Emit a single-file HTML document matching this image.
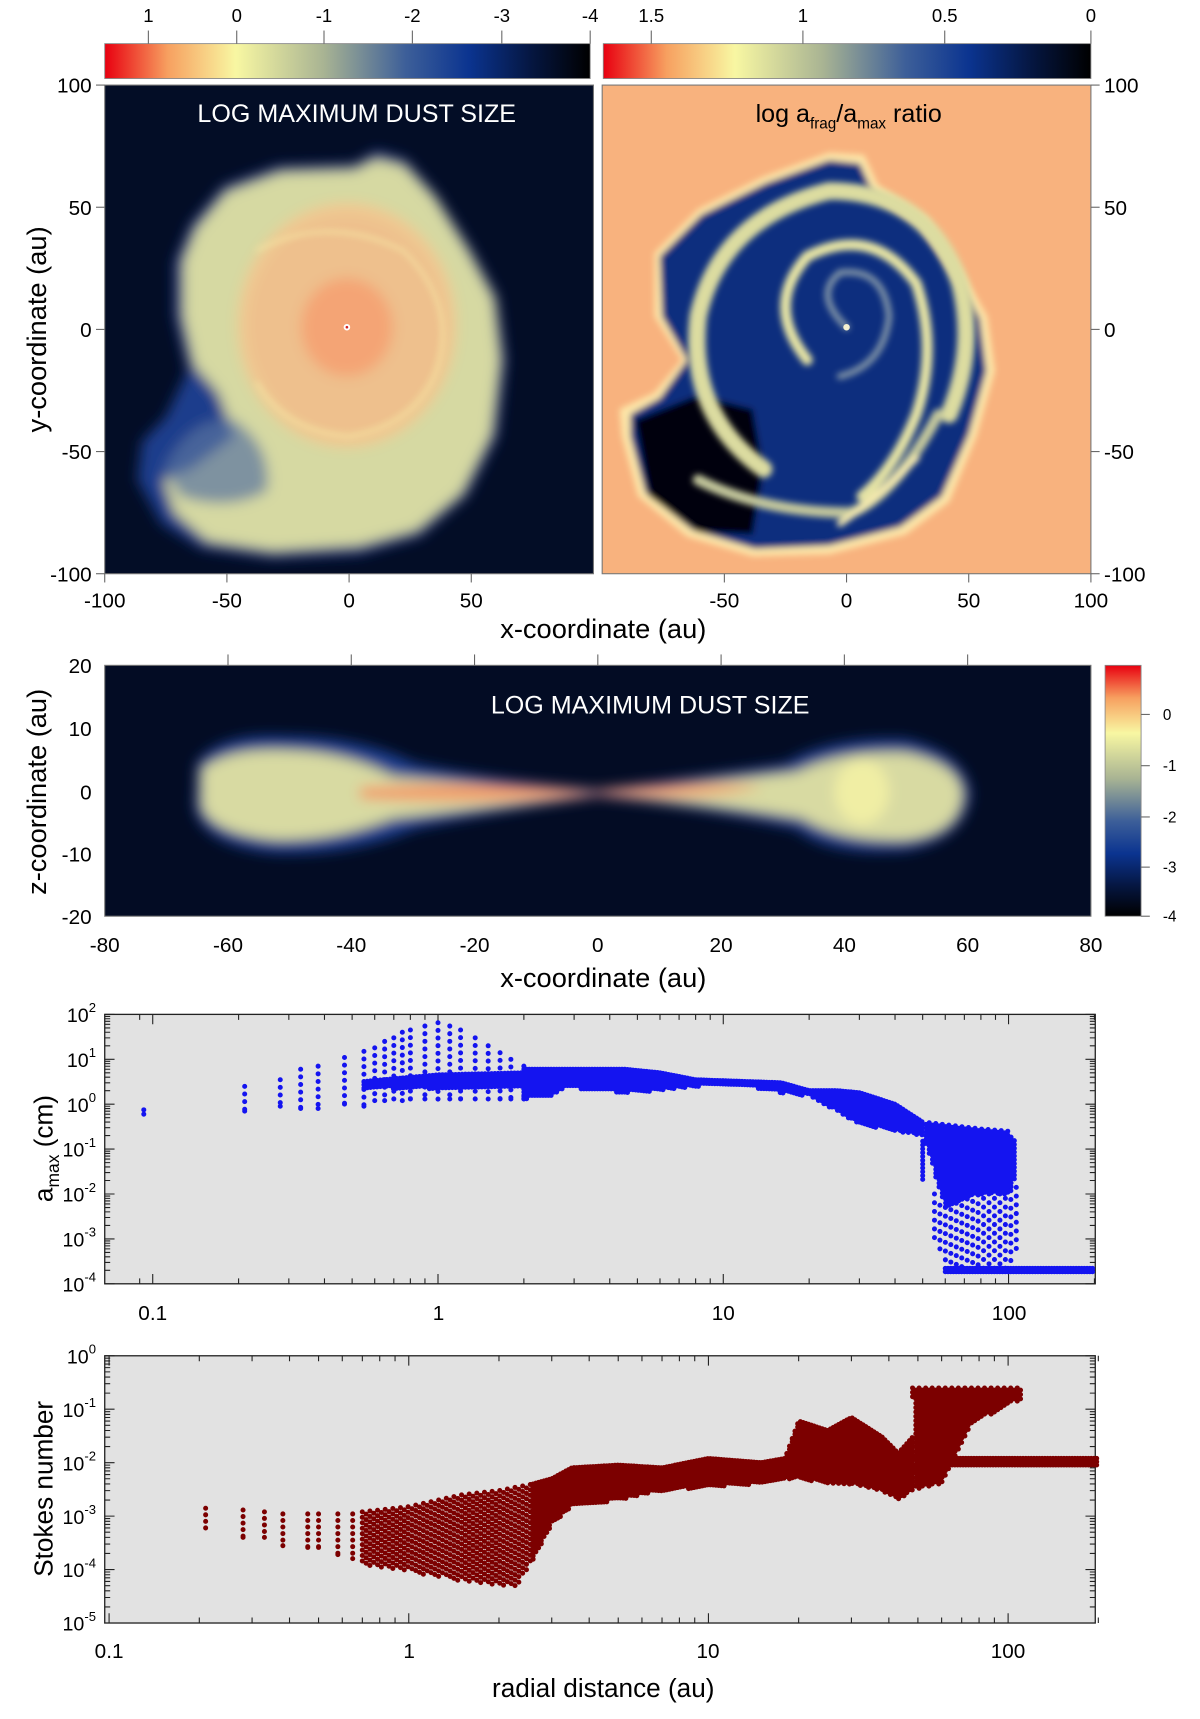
<!DOCTYPE html>
<html><head><meta charset="utf-8"><style>
html,body{margin:0;padding:0;background:#fff;}
svg{display:block;font-family:"Liberation Sans",sans-serif;}
</style></head><body>
<svg id="fig" width="1200" height="1719" viewBox="0 0 1100 1576" preserveAspectRatio="none" xmlns="http://www.w3.org/2000/svg">
<defs>
<linearGradient id="cmapL" x1="0" x2="1" y1="0" y2="0">
<stop offset="0" stop-color="#e80010"/><stop offset="0.13" stop-color="#f7a060"/><stop offset="0.27" stop-color="#f8f7a2"/><stop offset="0.45" stop-color="#a9b493"/><stop offset="0.62" stop-color="#3d5f99"/><stop offset="0.75" stop-color="#0b3490"/><stop offset="0.88" stop-color="#051640"/><stop offset="1" stop-color="#000000"/>
</linearGradient>
<linearGradient id="cmapV" x1="0" x2="0" y1="0" y2="1">
<stop offset="0" stop-color="#e80010"/><stop offset="0.13" stop-color="#f7a060"/><stop offset="0.27" stop-color="#f8f7a2"/><stop offset="0.45" stop-color="#a9b493"/><stop offset="0.62" stop-color="#3d5f99"/><stop offset="0.75" stop-color="#0b3490"/><stop offset="0.88" stop-color="#051640"/><stop offset="1" stop-color="#000000"/>
</linearGradient>
<filter id="b6" x="-20%" y="-20%" width="140%" height="140%"><feGaussianBlur stdDeviation="6"/></filter>
<filter id="b3" x="-20%" y="-20%" width="140%" height="140%"><feGaussianBlur stdDeviation="3"/></filter>
<clipPath id="clipL"><rect x="96" y="78" width="448" height="448"/></clipPath>
<clipPath id="clipR"><rect x="552" y="78" width="448" height="448"/></clipPath>
<clipPath id="clipM"><rect x="96" y="610" width="904" height="230"/></clipPath>
</defs>

<g>
<rect x="96" y="40" width="445" height="32" fill="url(#cmapL)" stroke="#888" stroke-width="0.8"/>
<g font-size="17" text-anchor="middle" fill="#000">
<text x="136" y="20">1</text><text x="217" y="20">0</text><text x="297" y="20">-1</text><text x="378" y="20">-2</text><text x="460" y="20">-3</text><text x="541" y="20">-4</text>
</g>
<g stroke="#666" stroke-width="1"><line x1="136" y1="28" x2="136" y2="40"/><line x1="217" y1="28" x2="217" y2="40"/><line x1="297" y1="28" x2="297" y2="40"/><line x1="378" y1="28" x2="378" y2="40"/><line x1="460" y1="28" x2="460" y2="40"/><line x1="541" y1="28" x2="541" y2="40"/></g>
</g>
<g>
<rect x="553" y="40" width="447" height="32" fill="url(#cmapL)" stroke="#888" stroke-width="0.8"/>
<g font-size="17" text-anchor="middle" fill="#000">
<text x="597" y="20">1.5</text><text x="736" y="20">1</text><text x="866" y="20">0.5</text><text x="1000" y="20">0</text>
</g>
<g stroke="#666" stroke-width="1"><line x1="597" y1="28" x2="597" y2="40"/><line x1="736" y1="28" x2="736" y2="40"/><line x1="866" y1="28" x2="866" y2="40"/><line x1="1000" y1="28" x2="1000" y2="40"/></g>
</g>

<g clip-path="url(#clipL)">
<rect x="96" y="78" width="448" height="448" fill="#030d26"/>
<g filter="url(#b6)">
<path d="M175,205 L205,170 L255,152 L325,150 L345,138 L372,146 L400,178 L432,228 L456,272 L464,330 L456,400 L428,455 L385,492 L330,508 L250,512 L185,503 L148,480 L126,440 L130,405 L152,382 L172,340 L160,290 L160,240 Z" fill="#1d3c8c"/>
<path d="M180,210 L208,176 L258,158 L325,156 L345,146 L370,152 L398,182 L428,230 L452,274 L458,330 L450,398 L423,452 L382,486 L330,500 L250,505 L190,496 L160,470 L150,440 L175,430 L215,400 L200,360 L178,335 L168,290 L168,240 Z" fill="#d6d9a2"/>
<path d="M150,430 Q175,380 215,385 Q250,410 245,450 Q210,470 165,455 Z" fill="#5873a0" opacity="0.7"/>
<ellipse cx="318" cy="298" rx="100" ry="112" fill="#f0c890"/>
<ellipse cx="318" cy="298" rx="90" ry="100" fill="#eec08d"/>
<ellipse cx="318" cy="300" rx="42" ry="45" fill="#f4a474"/>
</g>
<path d="M235,230 Q300,195 370,230 Q420,280 400,340 Q380,390 320,400 Q260,395 235,350" fill="none" stroke="#f6e8a6" stroke-width="4" opacity="0.6" filter="url(#b3)"/>
<circle cx="318" cy="300" r="3" fill="#fff"/>
<circle cx="318" cy="300" r="1.2" fill="#d02020"/>
<text x="327" y="112" font-size="23" fill="#fff" text-anchor="middle">LOG MAXIMUM DUST SIZE</text>
</g>

<g clip-path="url(#clipR)">
<rect x="552" y="78" width="448" height="448" fill="#f8b27e"/>
<g filter="url(#b3)">
<path d="M600,232 L640,192 L700,162 L760,140 L792,142 L805,170 L850,200 L882,250 L905,290 L912,340 L895,400 L870,460 L830,490 L760,508 L690,510 L630,492 L585,455 L570,400 L568,375 L600,360 L625,330 L600,290 Z" fill="#fde6a8"/>
<path d="M605,235 L643,197 L702,168 L760,147 L788,150 L800,176 L845,205 L876,252 L898,292 L904,340 L888,398 L863,455 L825,483 L760,500 L692,503 L635,486 L592,452 L578,400 L578,380 L605,365 L630,330 L607,290 Z" fill="#0b2d7e"/>
<path d="M582,385 L640,362 L690,375 L700,430 L690,490 L640,488 L595,455 Z" fill="#000611"/>
</g>
<g fill="none" filter="url(#b3)" stroke-linecap="round">
<path d="M700,430 Q630,380 640,290 Q660,200 760,175 Q850,175 880,260 Q895,320 870,380" stroke="#dcdca0" stroke-width="16"/>
<path d="M740,330 Q700,280 740,235 Q800,205 840,260 Q860,320 840,380 Q820,430 790,455" stroke="#e6e4a4" stroke-width="10"/>
<path d="M776,300 Q745,270 770,250 Q810,245 815,290 Q810,335 770,345" stroke="#7f93a6" stroke-width="6"/>
<path d="M640,440 Q700,470 780,470 Q820,455 860,380" stroke="#c4c89c" stroke-width="10"/>
<path d="M770,480 Q800,460 840,420" stroke="#f8ecb0" stroke-width="6"/>
</g>
<circle cx="776" cy="300" r="3" fill="#f4f0d0"/>
<text x="778" y="112" font-size="23" fill="#000" text-anchor="middle">log a<tspan font-size="14" dy="6">frag</tspan><tspan dy="-6">/a</tspan><tspan font-size="14" dy="6">max</tspan><tspan dy="-6"> ratio</tspan></text>
</g>
<rect x="96" y="78" width="448" height="448" fill="none" stroke="#777" stroke-width="1"/>
<rect x="552" y="78" width="448" height="448" fill="none" stroke="#777" stroke-width="1"/>

<g font-size="19" text-anchor="end">
<text x="84" y="85">100</text><text x="84" y="197">50</text><text x="84" y="309">0</text><text x="84" y="421">-50</text><text x="84" y="533">-100</text>
<g stroke="#666"><line x1="88" y1="78" x2="96" y2="78"/><line x1="88" y1="190" x2="96" y2="190"/><line x1="88" y1="302" x2="96" y2="302"/><line x1="88" y1="414" x2="96" y2="414"/><line x1="88" y1="526" x2="96" y2="526"/></g>
</g>
<g font-size="19" text-anchor="start">
<text x="1012" y="85">100</text><text x="1012" y="197">50</text><text x="1012" y="309">0</text><text x="1012" y="421">-50</text><text x="1012" y="533">-100</text>
<g stroke="#666"><line x1="1000" y1="78" x2="1008" y2="78"/><line x1="1000" y1="190" x2="1008" y2="190"/><line x1="1000" y1="302" x2="1008" y2="302"/><line x1="1000" y1="414" x2="1008" y2="414"/><line x1="1000" y1="526" x2="1008" y2="526"/></g>
</g>
<g font-size="19" text-anchor="middle">
<text x="96" y="557">-100</text><text x="208" y="557">-50</text><text x="320" y="557">0</text><text x="432" y="557">50</text>
<text x="664" y="557">-50</text><text x="776" y="557">0</text><text x="888" y="557">50</text><text x="1000" y="557">100</text>
<g stroke="#666"><line x1="96" y1="526" x2="96" y2="534"/><line x1="208" y1="526" x2="208" y2="534"/><line x1="320" y1="526" x2="320" y2="534"/><line x1="432" y1="526" x2="432" y2="534"/><line x1="664" y1="526" x2="664" y2="534"/><line x1="776" y1="526" x2="776" y2="534"/><line x1="888" y1="526" x2="888" y2="534"/><line x1="1000" y1="526" x2="1000" y2="534"/></g>
</g>
<text x="553" y="585" font-size="25" text-anchor="middle">x-coordinate (au)</text>
<text transform="translate(42,302) rotate(-90)" font-size="25" text-anchor="middle">y-coordinate (au)</text>

<g clip-path="url(#clipM)">
<rect x="96" y="610" width="904" height="230" fill="#030c24"/>
<g filter="url(#b6)">
<path d="M180,700 Q200,672 260,675 Q330,675 380,700 Q450,715 548,724 Q640,712 720,700 Q760,675 830,678 Q885,690 890,728 Q885,770 830,780 Q760,785 730,760 Q640,740 548,730 Q450,745 380,760 Q320,785 250,782 Q185,775 178,740 Z" fill="#1e3f90"/>
<path d="M185,705 Q210,685 265,688 Q320,690 360,712 Q450,720 548,726 Q640,718 730,708 Q770,688 830,690 Q880,700 882,728 Q880,765 830,770 Q770,772 735,750 Q640,735 548,728 Q450,740 360,750 Q310,770 255,770 Q195,765 185,740 Z" fill="#d8daa2"/>
<path d="M330,722 Q450,716 540,726 Q640,716 700,722 Q640,734 548,728 Q450,738 330,732 Z" fill="#f39a68"/>
<ellipse cx="790" cy="726" rx="25" ry="30" fill="#f0eea4"/>
</g>
<text x="596" y="654" font-size="23" fill="#fff" text-anchor="middle">LOG MAXIMUM DUST SIZE</text>
</g>
<rect x="96" y="610" width="904" height="230" fill="none" stroke="#777"/>
<g font-size="19" text-anchor="middle">
<text x="96" y="873">-80</text><text x="209" y="873">-60</text><text x="322" y="873">-40</text><text x="435" y="873">-20</text><text x="548" y="873">0</text><text x="661" y="873">20</text><text x="774" y="873">40</text><text x="887" y="873">60</text><text x="1000" y="873">80</text>
<g stroke="#666"><line x1="209" y1="600" x2="209" y2="610"/><line x1="322" y1="600" x2="322" y2="610"/><line x1="435" y1="600" x2="435" y2="610"/><line x1="548" y1="600" x2="548" y2="610"/><line x1="661" y1="600" x2="661" y2="610"/><line x1="774" y1="600" x2="774" y2="610"/><line x1="887" y1="600" x2="887" y2="610"/></g>
</g>
<g font-size="19" text-anchor="end">
<text x="84" y="617">20</text><text x="84" y="675">10</text><text x="84" y="733">0</text><text x="84" y="790">-10</text><text x="84" y="847">-20</text>
</g>
<text x="553" y="905" font-size="25" text-anchor="middle">x-coordinate (au)</text>
<text transform="translate(42,726) rotate(-90)" font-size="25" text-anchor="middle">z-coordinate (au)</text>
<g>
<rect x="1013" y="610" width="33" height="230" fill="url(#cmapV)" stroke="#888" stroke-width="0.8"/>
<g font-size="14" text-anchor="start"><text x="1066" y="660">0</text><text x="1066" y="707">-1</text><text x="1066" y="754">-2</text><text x="1066" y="800">-3</text><text x="1066" y="845">-4</text></g>
<g stroke="#666"><line x1="1046" y1="655" x2="1054" y2="655"/><line x1="1046" y1="702" x2="1054" y2="702"/><line x1="1046" y1="749" x2="1054" y2="749"/><line x1="1046" y1="795" x2="1054" y2="795"/><line x1="1046" y1="840" x2="1054" y2="840"/></g>
</g>

<g>
<rect x="96" y="930" width="908" height="247" fill="#e2e2e2" stroke="#222" stroke-width="1.2"/>
<g id="s1ticks"></g>
<g id="s1dots"></g>
<g font-size="19" text-anchor="middle"><text x="140" y="1210">0.1</text><text x="402" y="1210">1</text><text x="663" y="1210">10</text><text x="925" y="1210">100</text></g>
<g font-size="18" text-anchor="end" id="s1ylab"></g>
<text transform="translate(48,1053) rotate(-90)" font-size="24" text-anchor="middle">a<tspan font-size="16" dy="6">max</tspan><tspan dy="-6"> (cm)</tspan></text>
</g>

<g>
<rect x="96" y="1243" width="908" height="245" fill="#e2e2e2" stroke="#222" stroke-width="1.2"/>
<g id="s2ticks"></g>
<g id="s2dots"></g>
<g font-size="19" text-anchor="middle"><text x="100" y="1520">0.1</text><text x="375" y="1520">1</text><text x="649" y="1520">10</text><text x="924" y="1520">100</text></g>
<g font-size="18" text-anchor="end" id="s2ylab"></g>
<text transform="translate(48,1365) rotate(-90)" font-size="24" text-anchor="middle">Stokes number</text>
<text x="553" y="1556" font-size="24" text-anchor="middle">radial distance (au)</text>
</g>
</svg>
<script>
// ---- amax data (r in au, values in cm) ----
const aColR  = [0.093,0.21,0.28,0.33,0.38,0.47,0.55,0.6,0.65,0.7,0.75,0.8,0.9,1.0,1.1,1.2,1.35,1.5,1.65,1.8,2.0];
const aColLo = [0.6,0.7,0.9,0.8,0.8,1.0,0.9,1.2,1.2,1.3,1.2,1.3,1.3,1.3,1.3,1.3,1.3,1.3,1.3,1.3,1.3];
const aColHi = [0.75,2.5,3.5,6,7,11,15,18,25,30,40,45,55,65,55,45,30,20,14,10,7];
const aBandR  = [2.0,2.5,2.8,3.5,4.5,6,8,12,16,20,25,30,40,50];
const aBandLo = [1.3,1.5,2.5,2.0,1.8,2.0,2.5,2.5,1.8,1.5,0.7,0.35,0.25,0.2];
const aBandHi = [6,6,6,6,6,5,3.5,3.2,3,2,2,1.8,1.0,0.4];
const aOuterR  = [50,60,80,100,105];
const aOuterLo = [0.2,0.005,0.01,0.01,0.02];
const aOuterHi = [0.4,0.35,0.28,0.25,0.15];
const aSparseR  = [55,60,80,100,108];
const aSparseLo = [0.001,0.0002,0.0002,0.0002,0.0005];
const aSparseHi = [0.01,0.005,0.01,0.01,0.02];
const aInnerR  = [0.55,1.0,2.0];
const aInnerLo = [2.2,2.2,2.2];
const aInnerHi = [3.2,4.5,5];
const aFlatR  = [60,200];
const aFlatLo = [0.00018,0.00018];
const aFlatHi = [0.00022,0.00022];
// ---- Stokes data ----
const sColR  = [0.21,0.28,0.33,0.38,0.46,0.5,0.58,0.65];
const sColLo = [0.0006,0.0004,0.0004,0.00028,0.00026,0.00026,0.00019,0.00016];
const sColHi = [0.0014,0.0013,0.0012,0.0011,0.0011,0.0011,0.0011,0.0011];
const sLowR  = [0.7,1.0,1.5,2.0,2.3,2.6];
const sLowLo = [0.00012,0.00009,0.00006,0.00005,0.00005,0.00015];
const sLowHi = [0.0012,0.0015,0.0025,0.003,0.0035,0.004];
const sBandR  = [2.6,3.0,3.5,5,7,10,15,18,20,25,30,38,43,48];
const sBandLo = [0.00015,0.0007,0.0015,0.002,0.003,0.0035,0.004,0.005,0.005,0.004,0.004,0.003,0.002,0.003];
const sBandHi = [0.004,0.005,0.008,0.009,0.008,0.012,0.01,0.012,0.06,0.04,0.07,0.03,0.015,0.03];
const sHighR  = [48,60,75,100,110];
const sHighLo = [0.003,0.004,0.05,0.12,0.15];
const sHighHi = [0.25,0.25,0.25,0.25,0.25];
const sFlatR  = [55,200];
const sFlatLo = [0.009,0.009];
const sFlatHi = [0.012,0.012];
const aTickExp = [2,1,0,-1,-2,-3,-4];
const sTickExp = [0,-1,-2,-3,-4,-5];

const NS='http://www.w3.org/2000/svg';
const L=Math.log10;
const xA=r=>140+261.5*L(r/0.1), yA=v=>930+(2-L(v))*41.17;
const xB=r=>100+274.7*L(r/0.1), yB=v=>1243+(0-L(v))*49;
function interp(rs,vs,r){
  for(let i=0;i<rs.length-1;i++){ if(r>=rs[i]&&r<=rs[i+1]){const t=(L(r)-L(rs[i]))/(L(rs[i+1])-L(rs[i]));return Math.pow(10,L(vs[i])+t*(L(vs[i+1])-L(vs[i])));} }
  return vs[vs.length-1];
}
function circ(d,x,y,rad){return d+'M'+(x-rad).toFixed(1)+' '+y.toFixed(1)+'a'+rad+' '+rad+' 0 1 0 '+(2*rad)+' 0a'+rad+' '+rad+' 0 1 0 '+(-2*rad)+' 0';}
function addPath(g,d,color,name){
  const p=document.createElementNS(NS,'path');
  p.setAttribute('d',d);p.setAttribute('fill',color);
  
  
  g.appendChild(p);
}
function columns(g,rs,lo,hi,xf,yf,dy,color,name){
  let d='';
  for(let i=0;i<rs.length;i++){const x=xf(rs[i]);for(let y=yf(hi[i]);y<=yf(lo[i])+0.1;y+=dy)d=circ(d,x,y,2.3);d=circ(d,x,yf(lo[i]),2.3);}
  addPath(g,d,color,name);
}
function band(g,rs,lo,hi,xf,yf,dx,dy,color,name,stag){
  let d='';const x0=xf(rs[0]),x1=xf(rs[rs.length-1]);let k=0;
  for(let x=x0;x<=x1+0.1;x+=dx,k++){
    const r=Math.pow(10,L(rs[0])+(x-x0)/(x1-x0)*(L(rs[rs.length-1])-L(rs[0])));
    const yt=yf(interp(rs,hi,r)),yb=yf(interp(rs,lo,r));
    const off=stag?(k%2)*dy/2:0;
    for(let y=yt+off;y<=yb+0.1;y+=dy)d=circ(d,x,y,2.3);
  }
  addPath(g,d,color,name);
}
function ticks(g,xf,yf,x0,x1,yTop,yBot,exps,rmin,rmax,labG,lx){
  let d='';
  for(let e=Math.floor(L(rmin));e<=Math.ceil(L(rmax));e++)for(let m=1;m<10;m++){const r=m*Math.pow(10,e);if(r<rmin||r>rmax)continue;const x=xf(r),len=m==1?9:5;d+='M'+x+' '+yBot+'v'+(-len)+'M'+x+' '+yTop+'v'+len;}
  exps.forEach((e,i)=>{const y=yf(Math.pow(10,e));d+='M'+x0+' '+y+'h9M'+x1+' '+y+'h-9';
    if(i<exps.length-1)for(let m=2;m<10;m++){const yy=yf(m*Math.pow(10,e-1));d+='M'+x0+' '+yy+'h5M'+x1+' '+yy+'h-5';}
    const t=document.createElementNS(NS,'text');t.setAttribute('x',lx);t.setAttribute('y',y+7);
    
    
    t.innerHTML='10<tspan font-size="12" dy="-9">'+e+'</tspan>';labG.appendChild(t);});
  const p=document.createElementNS(NS,'path');p.setAttribute('d',d);p.setAttribute('stroke','#222');p.setAttribute('fill','none');
  
  
  g.appendChild(p);
}
ticks(document.getElementById('s1ticks'),xA,yA,96,1004,930,1177,aTickExp,0.085,200,document.getElementById('s1ylab'),88);
ticks(document.getElementById('s2ticks'),xB,yB,96,1004,1243,1488,sTickExp,0.1,200,document.getElementById('s2ylab'),88);
const g1=document.getElementById('s1dots');
columns(g1,aColR,aColLo,aColHi,xA,yA,7,'#1414f0','amax-inner-columns');
band(g1,aInnerR,aInnerLo,aInnerHi,xA,yA,3,3,'#1414f0','amax-inner-band');
band(g1,aBandR,aBandLo,aBandHi,xA,yA,2.5,3,'#1414f0','amax-main-band');
band(g1,aOuterR,aOuterLo,aOuterHi,xA,yA,3,3.5,'#1414f0','amax-outer-band',true);
band(g1,aSparseR,aSparseLo,aSparseHi,xA,yA,5,8,'#1414f0','amax-sparse-band',true);
band(g1,aFlatR,aFlatLo,aFlatHi,xA,yA,2.5,3,'#1414f0','amax-floor-band');
const g2=document.getElementById('s2dots');
columns(g2,sColR,sColLo,sColHi,xB,yB,6,'#7c0000','stokes-inner-columns');
band(g2,sLowR,sLowLo,sLowHi,xB,yB,3.5,5,'#7c0000','stokes-low-band',true);
band(g2,sBandR,sBandLo,sBandHi,xB,yB,2.5,3,'#7c0000','stokes-main-band');
band(g2,sHighR,sHighLo,sHighHi,xB,yB,3,4,'#7c0000','stokes-high-band',true);
band(g2,sFlatR,sFlatLo,sFlatHi,xB,yB,2.5,3,'#7c0000','stokes-flat-band');
</script>
</body></html>
